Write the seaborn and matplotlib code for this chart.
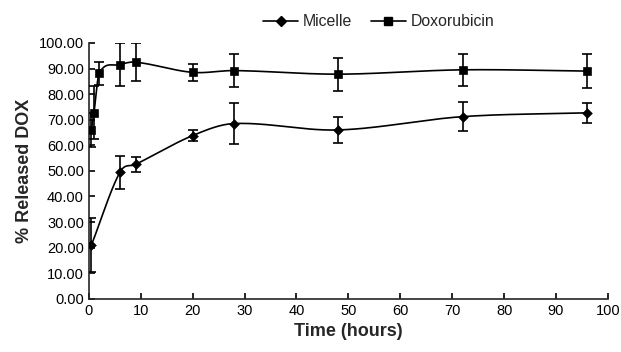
import numpy as np
import pandas as pd
import matplotlib
matplotlib.use("Agg")
import matplotlib.pyplot as plt
import seaborn as sns

# values
micelle_t = [0.5, 6, 9, 20, 28, 48, 72, 96]
micelle_y = [21.0, 49.5, 52.5, 63.8, 68.5, 66.0, 71.2, 72.7]
micelle_err = [10.5, 6.5, 2.8, 2.0, 8.0, 5.2, 5.8, 4.0]

dox_t = [0.5, 1, 2, 6, 9, 20, 28, 48, 72, 96]
dox_y = [66.0, 72.8, 88.2, 91.5, 92.5, 88.5, 89.2, 87.8, 89.5, 89.0]
dox_err = [6.5, 10.5, 4.5, 8.3, 7.5, 3.2, 6.5, 6.5, 6.3, 6.8]

sns.set_style("ticks")
plt.rcParams['font.family'] = ['Liberation Sans', 'DejaVu Sans']


def smooth(x, y, n=30):
    # hermite curve through the points, to look like excel's smoothed line
    x = np.asarray(x, float)
    y = np.asarray(y, float)
    m = np.zeros(len(x))
    m[0] = (y[1] - y[0]) / (x[1] - x[0])
    m[-1] = (y[-1] - y[-2]) / (x[-1] - x[-2])
    for i in range(1, len(x) - 1):
        m[i] = (y[i + 1] - y[i - 1]) / (x[i + 1] - x[i - 1])
    xs, ys = [], []
    t = np.linspace(0, 1, n)
    for i in range(len(x) - 1):
        h = x[i + 1] - x[i]
        h00 = 2 * t ** 3 - 3 * t ** 2 + 1
        h10 = t ** 3 - 2 * t ** 2 + t
        h01 = -2 * t ** 3 + 3 * t ** 2
        h11 = t ** 3 - t ** 2
        xs.extend(x[i] + t * h)
        ys.extend(h00 * y[i] + h10 * h * m[i] + h01 * y[i + 1] + h11 * h * m[i + 1])
    return xs, ys


fig = plt.figure(figsize=(6.21, 3.52), dpi=100)
ax = fig.add_axes([0.143, 0.151, 0.836, 0.727])

for t, y, e, mk, ms, name in [(micelle_t, micelle_y, micelle_err, 'D', 5, 'Micelle'),
                              (dox_t, dox_y, dox_err, 's', 6, 'Doxorubicin')]:
    sx, sy = smooth(t, y)
    ax.plot(sx, sy, color='black', lw=1.2, zorder=2)
    ax.errorbar(t, y, yerr=e, fmt='none', ecolor='black', elinewidth=1.2, capsize=3.5, capthick=1.2, zorder=3)
    df = pd.DataFrame({'t': t, 'y': y})
    sns.scatterplot(data=df, x='t', y='y', marker=mk, s=ms ** 2, color='black', edgecolor='black',
                    ax=ax, zorder=4, legend=False)
    ax.plot([], [], color='black', lw=1.2, marker=mk, markersize=ms, label=name)

ax.set_xlim(0, 100)
ax.set_ylim(0, 100)
ax.set_xticks(range(0, 101, 10))
ax.set_yticks(range(0, 101, 10))
ax.set_yticklabels([f"{v:.2f}" for v in range(0, 101, 10)])
ax.tick_params(direction='in', length=4, width=1.2, labelsize=10.5, colors='black')
for s in ['top', 'right']:
    ax.spines[s].set_visible(False)
for s in ['left', 'bottom']:
    ax.spines[s].set_linewidth(1.2)
ax.set_xlabel('Time (hours)', fontsize=13, fontweight='bold', labelpad=4)
ax.set_ylabel('% Released DOX', fontsize=13, fontweight='bold', labelpad=4)

fig.legend(loc='upper center', bbox_to_anchor=(0.61, 1.0), ncol=2, frameon=False,
           fontsize=11.4, handlelength=2.2, columnspacing=1.2, handletextpad=0.3)

fig.savefig('out.png', dpi=100)
